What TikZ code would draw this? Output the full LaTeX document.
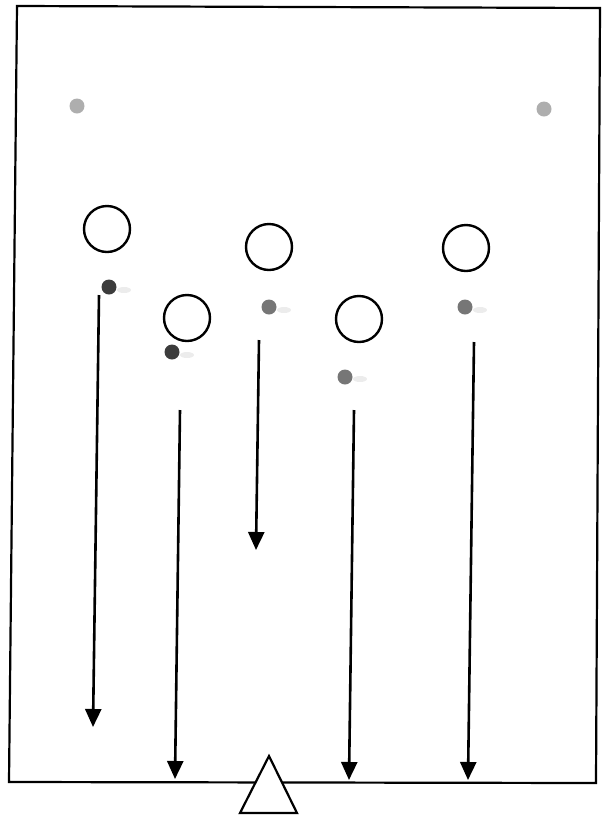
\documentclass[tikz,border=0pt]{standalone}
\usetikzlibrary{arrows.meta}
\definecolor{darkdot}{HTML}{3C3C3C}
\definecolor{graydot}{HTML}{767676}
\definecolor{lightdot}{HTML}{9A9A9A}
\tikzset{
  player/.style={circle,draw=black,line width=2.4pt,fill=white,minimum size=46pt,inner sep=0pt},
  ball/.style={circle,fill=#1,minimum size=15pt,inner sep=0pt},
  trail/.style={fill=gray!15,draw=none},
  run/.style={line width=2.6pt,-{Triangle[width=16pt,length=18pt]}},
  frame/.style={line width=2.2pt,line join=miter},
  cone/.style={draw=black,line width=2.2pt,fill=white}
}
\begin{document}
\begin{tikzpicture}[x=1pt,y=-1pt]
\useasboundingbox (0,0) rectangle (603,815);
% field border
\draw[frame] (17,6) -- (600,8) -- (596,783) -- (9,782) -- cycle;
% corner balls
\node[ball=lightdot,minimum size=15pt,opacity=0.8] (c1) at (77,106) {};
\node[ball=lightdot,minimum size=15pt,opacity=0.8] (c2) at (544,109) {};
% players
\node[player] (p1) at (107,229) {};
\node[player] (p2) at (187,318) {};
\node[player] (p3) at (269,247) {};
\node[player] (p4) at (359,319) {};
\node[player] (p5) at (466,248) {};
% trails behind balls
\foreach \x/\y in {109/287,172/352,269/307,345/376,465/307}
  \fill[trail] (\x+15,\y+3) ellipse (7pt and 3pt);
% balls
\node[ball=darkdot] (b1) at (109,287) {};
\node[ball=darkdot] (b2) at (172,352) {};
\node[ball=graydot] (b3) at (269,307) {};
\node[ball=graydot] (b4) at (345,377) {};
\node[ball=graydot] (b5) at (465,307) {};
% run coordinates
\coordinate (s1) at (99,295);  \coordinate (e1) at (93,727);
\coordinate (s2) at (180,410); \coordinate (e2) at (175,779);
\coordinate (s3) at (259,340); \coordinate (e3) at (256,550);
\coordinate (s4) at (354,410); \coordinate (e4) at (349,780);
\coordinate (s5) at (474,342); \coordinate (e5) at (468,780);
\draw[run] (s1) -- (e1);
\draw[run] (s2) -- (e2);
\draw[run] (s3) -- (e3);
\draw[run] (s4) -- (e4);
\draw[run] (s5) -- (e5);
% cone / goal marker
\coordinate (t1) at (269,756);
\coordinate (t2) at (297,813);
\coordinate (t3) at (240,813);
\draw[cone] (t1) -- (t2) -- (t3) -- cycle;
\end{tikzpicture}
\end{document}
